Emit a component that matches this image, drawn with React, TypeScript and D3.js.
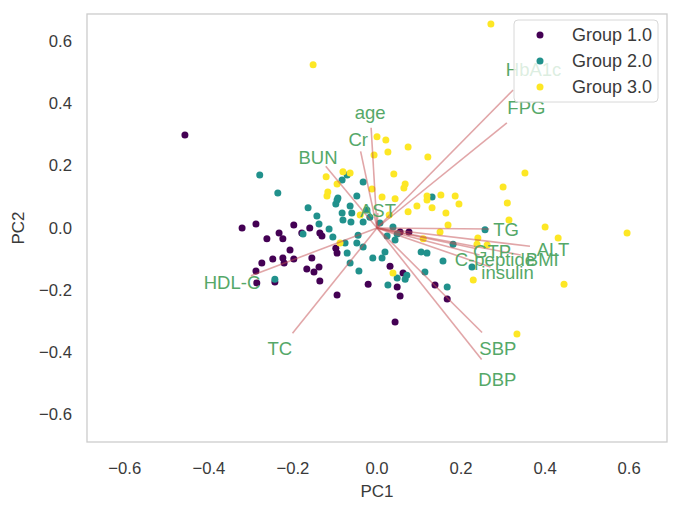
import React from "react";
import * as d3 from "d3";

const group1X = [-0.457,-0.321,-0.288,-0.262,-0.233,-0.224,-0.198,-0.179,-0.160,-0.136,-0.131,-0.207,-0.248,-0.224,-0.274,-0.288,-0.286,-0.243,-0.198,-0.155,-0.167,-0.138,-0.150,-0.136,-0.095,-0.098,-0.095,0.031,0.062,0.048,0.055,-0.021,0.043,0.076,0.055,0.138,0.167,-0.221];
const group1Y = [0.300,0.000,0.013,-0.035,-0.016,-0.035,0.010,-0.016,0.000,-0.016,-0.026,-0.071,-0.100,-0.097,-0.113,-0.139,-0.177,-0.174,-0.100,-0.097,-0.132,-0.126,-0.142,-0.171,-0.216,-0.065,-0.081,-0.123,-0.145,-0.190,-0.219,-0.181,-0.303,-0.013,-0.013,-0.184,-0.229,-0.113];

const group2X = [-0.279,-0.236,-0.164,-0.143,-0.138,-0.176,-0.114,-0.105,-0.083,-0.071,-0.033,-0.095,-0.098,-0.064,-0.048,-0.060,-0.062,-0.033,-0.024,-0.081,-0.076,-0.048,-0.033,-0.071,-0.045,-0.010,-0.064,-0.017,0.007,-0.043,0.012,0.019,0.024,0.043,0.048,0.038,0.071,0.026,0.114,0.105,0.119,0.167,0.131,0.157,-0.243,0.181,0.257,0.226,0.048,0.067,-0.083,-0.093];
const group2Y = [0.171,0.113,0.065,0.039,0.013,-0.019,-0.003,-0.029,0.155,0.171,0.148,0.090,0.077,0.071,0.103,0.048,0.019,0.019,0.058,0.026,-0.048,-0.048,-0.061,-0.081,-0.023,-0.097,-0.113,0.035,0.016,-0.139,-0.097,-0.077,-0.026,-0.039,-0.019,0.003,-0.152,-0.184,-0.142,-0.077,-0.081,-0.190,0.100,-0.106,-0.165,-0.052,-0.006,-0.126,-0.161,-0.165,0.048,0.097];

const group3X = [0.271,-0.152,0.000,0.021,0.026,-0.007,0.040,-0.012,0.012,-0.081,-0.064,-0.121,-0.095,-0.119,-0.117,-0.088,-0.040,0.067,0.064,0.043,0.074,0.095,0.119,0.119,0.131,0.152,0.164,0.121,0.169,0.150,0.110,0.038,0.029,0.352,0.186,0.195,0.240,0.238,0.262,0.300,0.310,0.314,0.400,0.431,0.445,0.229,0.333,0.595,0.074];
const group3Y = [0.658,0.526,0.294,0.284,0.245,0.235,0.174,0.126,0.100,0.181,0.177,0.165,0.142,0.103,0.116,-0.048,0.042,0.142,0.129,0.094,0.052,0.071,0.103,0.090,0.065,0.106,0.048,0.229,0.010,-0.013,-0.035,-0.145,0.042,0.177,0.103,0.077,-0.032,-0.052,-0.055,0.132,0.081,0.026,0.003,-0.032,-0.181,-0.168,-0.342,-0.016,0.261];

const groupNames = ["Group 1.0", "Group 2.0", "Group 3.0"];
const groupColors = ["#440154", "#21918c", "#fde725"];

const loadingNames = ["HbA1c","FPG","age","Cr","BUN","AST","TG","ALT","BMI","GTP","C-peptide","insulin","SBP","DBP","TC","HDL-C"];
const loadingX = [0.324,0.309,-0.014,-0.039,-0.122,0.002,0.267,0.364,0.342,0.238,0.244,0.270,0.250,0.249,-0.201,-0.300];
const loadingY = [0.445,0.339,0.323,0.247,0.199,0.048,-0.003,-0.059,-0.087,-0.067,-0.087,-0.126,-0.337,-0.424,-0.339,-0.154];

const ticks = [-0.6,-0.4,-0.2,0.0,0.2,0.4,0.6];

export default function App() {
  const W = 680, H = 513;
  const x = d3.scaleLinear().domain([-0.69, 0.69]).range([87, 667]);
  const y = d3.scaleLinear().domain([-0.69, 0.69]).range([442, 14]);
  const fmt = (v: number) => (v < 0 ? "\u2212" : "") + Math.abs(v).toFixed(1);
  const groups = [
    { xs: group1X, ys: group1Y },
    { xs: group2X, ys: group2Y },
    { xs: group3X, ys: group3Y },
  ];
  const font = "'Liberation Sans', Arial, sans-serif";
  const txt = "#3a3a3a";
  return (
    <svg width={W} height={H} style={{ position: "absolute", left: 0, top: 0, background: "#fff" }} fontFamily={font}>
      <rect x={0} y={0} width={W} height={H} fill="#fff" />
      {groups.map((g, gi) =>
        g.xs.map((v, i) => (
          <circle key={`p${gi}-${i}`} cx={x(v)} cy={y(g.ys[i])} r={3.5} fill={groupColors[gi]} />
        ))
      )}
      {loadingNames.map((n, i) => (
        <line key={`l${i}`} x1={x(0)} y1={y(0)} x2={x(loadingX[i])} y2={y(loadingY[i])}
          stroke="#C44E52" strokeOpacity={0.5} strokeWidth={1.6} />
      ))}
      {loadingNames.map((n, i) => (
        <text key={`t${i}`} x={x(loadingX[i] * 1.15)} y={y(loadingY[i] * 1.15)} fill="#55A868"
          fontSize={18.5} textAnchor="middle" dominantBaseline="central">{n}</text>
      ))}
      <rect x={x(-0.69)} y={y(0.69)} width={x(0.69) - x(-0.69)} height={y(-0.69) - y(0.69)}
        fill="none" stroke="#cccccc" strokeWidth={1.3} />
      {ticks.map((t) => (
        <text key={`xt${t}`} x={x(t)} y={468} fill={txt} fontSize={16.7} textAnchor="middle" dominantBaseline="central">{fmt(t)}</text>
      ))}
      {ticks.map((t) => (
        <text key={`yt${t}`} x={72} y={y(t)} fill={txt} fontSize={16.7} textAnchor="end" dominantBaseline="central">{fmt(t)}</text>
      ))}
      <text x={x(0)} y={491} fill={txt} fontSize={17} textAnchor="middle" dominantBaseline="central">PC1</text>
      <text transform={`translate(18,${y(0)}) rotate(-90)`} fill={txt} fontSize={17} textAnchor="middle" dominantBaseline="central">PC2</text>
      <g>
        <rect x={514} y={20} width={144} height={82} rx={4} fill="#fff" fillOpacity={0.8} stroke="#d8d8d8" strokeWidth={1} />
        {groupNames.map((n, i) => (
          <g key={`lg${i}`}>
            <circle cx={540} cy={35 + i * 26} r={3.5} fill={groupColors[i]} />
            <text x={572} y={35 + i * 26} fill={txt} fontSize={18} dominantBaseline="central">{n}</text>
          </g>
        ))}
      </g>
    </svg>
  );
}
